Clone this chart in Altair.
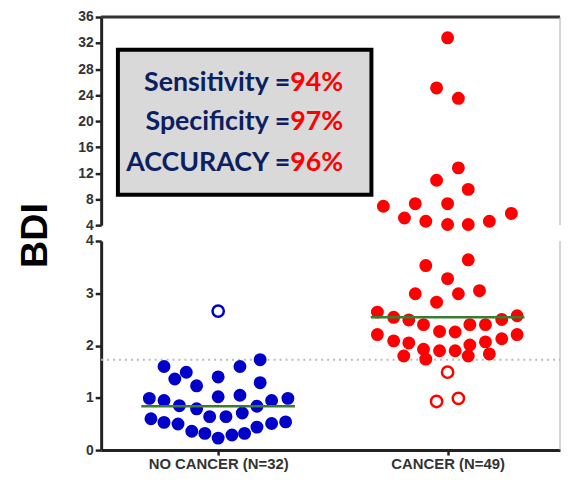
import altair as alt
import pandas as pd

# ---- data ----
groups = ["NO CANCER (N=32)", "CANCER (N=49)"]
group_pos = [0.5, 1.5]

blue_values = [1.73, 1.60, 1.60, 1.49, 1.36, 1.40, 1.23, 1.29,
               0.99, 0.95, 1.02, 1.05, 0.99, 0.95,
               0.85, 0.84, 0.79,
               0.64, 0.64, 0.71,
               0.60, 0.53, 0.50,
               0.36, 0.32, 0.23, 0.29, 0.32, 0.44, 0.51, 0.54]
blue_offsets = [0.183, -0.236, 0.095, -0.139, -0.189, 0.0, -0.094, 0.183,
                -0.300, -0.236, 0.0, 0.095, 0.304, 0.233,
                -0.169, 0.169, -0.094,
                -0.037, 0.034, 0.105,
                -0.293, -0.236, -0.175,
                -0.115, -0.058, 0.0, 0.060, 0.115, 0.169, 0.233, 0.294]
blue_open_values = [2.66]
blue_open_offsets = [0.0]

red_upper_values = [32.8, 25.1, 23.5, 12.8, 10.9, 9.5, 6.9, 7.3, 7.3, 5.1, 4.6, 4.1, 4.1, 4.6, 5.8]
red_upper_offsets = [0.0, -0.048, 0.047, 0.047, -0.048, 0.090, -0.280, -0.141, 0.0,
                     -0.188, -0.095, 0.0, 0.090, 0.182, 0.278]
red_lower_values = [3.53, 3.64, 3.28, 2.99, 2.99, 3.05, 2.83,
                    2.64, 2.54, 2.49, 2.40, 2.27, 2.26, 2.40, 2.40, 2.50, 2.57,
                    2.21, 2.09, 2.05, 1.93, 1.90, 1.90, 2.01, 2.07, 2.13, 2.21,
                    1.80, 1.74, 1.80, 1.84]
red_lower_offsets = [-0.095, 0.090, 0.0, -0.141, 0.047, 0.139, -0.048,
                     -0.306, -0.235, -0.169, -0.105, -0.035, 0.033, 0.097, 0.165, 0.236, 0.303,
                     -0.306, -0.235, -0.169, -0.105, -0.035, 0.033, 0.097, 0.165, 0.236, 0.303,
                     -0.191, -0.095, 0.090, 0.182]
red_open_values = [1.49, 0.93, 0.99]
red_open_offsets = [0.0, -0.048, 0.047]

medians = [0.84, 2.54]
threshold = 1.73

stat_labels = ["Sensitivity =", "Specificity =", "ACCURACY ="]
stat_values = ["94%", "97%", "96%"]
stat_y = [24.7, 18.7, 12.4]

# ---- tables ----
def pts(values, offsets, center):
    return pd.DataFrame({"x": [center + o for o in offsets], "BDI": values})

blue_df = pts(blue_values, blue_offsets, group_pos[0])
blue_open_df = pts(blue_open_values, blue_open_offsets, group_pos[0])
red_up_df = pts(red_upper_values, red_upper_offsets, group_pos[1])
red_lo_df = pts(red_lower_values, red_lower_offsets, group_pos[1])
red_open_df = pts(red_open_values, red_open_offsets, group_pos[1])
med_df = pd.DataFrame({"x": [p - 0.335 for p in group_pos],
                       "x2": [p + 0.335 for p in group_pos],
                       "BDI": medians})
stat_df = pd.DataFrame({"label": stat_labels, "value": stat_values, "y": stat_y})
one = pd.DataFrame({"a": [0]})

W = 463
BLUE = "#0000c8"
RED = "#ff0000"
GREEN = "#3a7d32"
DOT = 170

xs = alt.Scale(domain=[-0.01, 1.99], nice=False, zero=False)
ys_up = alt.Scale(domain=[4, 36], nice=False, zero=False)
ys_lo = alt.Scale(domain=[0, 4], nice=False)

axis_style = dict(domain=True, domainColor="#222", domainWidth=3, tickColor="#222",
                  tickWidth=2.5, labelFont="Liberation Sans", labelFontWeight="bold",
                  labelColor="#333", grid=False)

up_y_axis = alt.Axis(values=list(range(4, 37, 4)), title=None, format="d",
                     tickSize=6, labelFontSize=14, labelPadding=2, **axis_style)
lo_x_axis = alt.Axis(values=group_pos, title=None,
                     labelExpr="datum.value < 1 ? 'NO CANCER (N=32)' : 'CANCER (N=49)'",
                     labelFontSize=15, labelPadding=2, tickSize=5, **axis_style)
lo_y_axis = alt.Axis(values=[0, 1, 2, 3, 4], format="d", title="BDI", titleFontSize=38,
                     titleFont="Liberation Sans", titleFontWeight="bold", titleColor="black",
                     titleAngle=270, titleX=-66, titleY=-6, titleAlign="center",
                     titleBaseline="middle", tickSize=6, labelFontSize=14, labelPadding=2,
                     **axis_style)

# ---- upper panel ----
box = alt.Chart(one).mark_rect(
    fill="#d9d9d9", stroke="black", strokeWidth=4
).encode(
    x=alt.X(datum=0.063, scale=xs, axis=None),
    x2=alt.datum(1.168),
    y=alt.Y(datum=30.97, scale=ys_up, axis=up_y_axis),
    y2=alt.datum(8.68),
)
txt_l = alt.Chart(stat_df).mark_text(
    align="right", baseline="alphabetic", font="Lato", fontWeight="bold",
    fontSize=27, color="#0a2060"
).encode(x=alt.X(datum=0.814, scale=xs, axis=None),
         y=alt.Y("y:Q", scale=ys_up, axis=up_y_axis), text="label:N")
txt_r = alt.Chart(stat_df).mark_text(
    align="left", baseline="alphabetic", font="Lato", fontWeight="bold",
    fontSize=27, color=RED
).encode(x=alt.X(datum=0.814, scale=xs, axis=None),
         y=alt.Y("y:Q", scale=ys_up, axis=up_y_axis), text="value:N")
up_pts = alt.Chart(red_up_df).mark_circle(size=DOT, color=RED, opacity=1).encode(
    x=alt.X("x:Q", scale=xs, axis=None), y=alt.Y("BDI:Q", scale=ys_up, axis=up_y_axis)
)
top_rule = alt.Chart(one).mark_rule(color="#333", strokeWidth=3).encode(
    x=alt.X(datum=-0.01, scale=xs, axis=None), x2=alt.datum(1.99),
    y=alt.Y(datum=36, scale=ys_up, axis=up_y_axis)
)
right_up = alt.Chart(one).mark_rule(color="#aaa", strokeWidth=1).encode(
    x=alt.X(datum=1.99, scale=xs, axis=None),
    y=alt.Y(datum=4, scale=ys_up, axis=up_y_axis), y2=alt.datum(36)
)
upper = alt.layer(box, txt_l, txt_r, up_pts, top_rule, right_up).properties(width=W, height=210)

# ---- lower panel ----
thr = alt.Chart(one).mark_rule(
    color="#bbbbbb", strokeWidth=2, strokeDash=[2, 4]
).encode(x=alt.X(datum=-0.01, scale=xs, axis=lo_x_axis), x2=alt.datum(1.99),
         y=alt.Y(datum=threshold, scale=ys_lo, axis=lo_y_axis))
b_pts = alt.Chart(blue_df).mark_circle(size=DOT, color=BLUE, opacity=1).encode(
    x=alt.X("x:Q", scale=xs, axis=lo_x_axis), y=alt.Y("BDI:Q", scale=ys_lo, axis=lo_y_axis))
b_open = alt.Chart(blue_open_df).mark_point(size=130, color=BLUE, strokeWidth=2.5, filled=False, opacity=1).encode(
    x=alt.X("x:Q", scale=xs, axis=lo_x_axis), y=alt.Y("BDI:Q", scale=ys_lo, axis=lo_y_axis))
r_pts = alt.Chart(red_lo_df).mark_circle(size=DOT, color=RED, opacity=1).encode(
    x=alt.X("x:Q", scale=xs, axis=lo_x_axis), y=alt.Y("BDI:Q", scale=ys_lo, axis=lo_y_axis))
r_open = alt.Chart(red_open_df).mark_point(size=130, color=RED, strokeWidth=2.5, filled=False, opacity=1).encode(
    x=alt.X("x:Q", scale=xs, axis=lo_x_axis), y=alt.Y("BDI:Q", scale=ys_lo, axis=lo_y_axis))
med = alt.Chart(med_df).mark_rule(color=GREEN, strokeWidth=2.5).encode(
    x=alt.X("x:Q", scale=xs, axis=lo_x_axis), x2="x2:Q",
    y=alt.Y("BDI:Q", scale=ys_lo, axis=lo_y_axis))
right_lo = alt.Chart(one).mark_rule(color="#aaa", strokeWidth=1).encode(
    x=alt.X(datum=1.99, scale=xs, axis=lo_x_axis),
    y=alt.Y(datum=0, scale=ys_lo, axis=lo_y_axis), y2=alt.datum(4))
lower = alt.layer(thr, b_pts, b_open, r_pts, r_open, med, right_lo).properties(width=W, height=211)

chart = alt.vconcat(upper, lower, spacing=16, bounds="flush").resolve_scale(
    x="independent", y="independent"
).properties(
    padding={"left": 9, "top": 0, "right": 0, "bottom": 0},
    background="white",
).configure_view(
    stroke=None
)

chart.save("out.html", embed_options={"renderer": "svg", "actions": False})
